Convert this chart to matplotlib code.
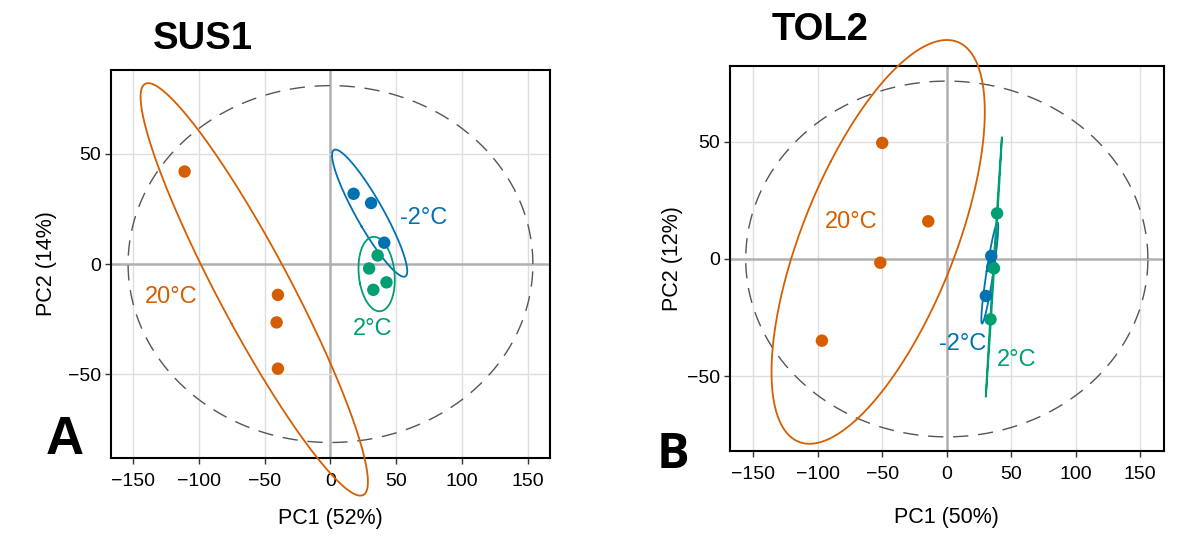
import matplotlib.pyplot as plt
import numpy as np

plt.rcParams['font.family'] = ['Liberation Sans', 'DejaVu Sans']

col_20 = "#D55E00"
col_m2 = "#0072B2"
col_2 = "#009E73"

# SUS1 scores (PC1, PC2)
sus_20_x = [-111, -40, -41, -40]
sus_20_y = [42, -14, -26.5, -47.5]
sus_m2_x = [17.6, 30.9, 40.9]
sus_m2_y = [31.9, 27.7, 9.7]
sus_2_x = [35.9, 29.4, 42.6, 32.6]
sus_2_y = [3.9, -2.0, -8.3, -11.7]

# TOL2 scores (PC1, PC2); third -2°C sample sits under a 2°C point
tol_20_x = [-50.1, -14.4, -51.6, -96.9]
tol_20_y = [49.6, 16.1, -1.6, -34.9]
tol_m2_x = [34.5, 30.3, 35.3]
tol_m2_y = [1.3, -15.8, -3.4]
tol_2_x = [39.0, 36.6, 33.9]
tol_2_y = [19.5, -4.0, -25.8]

# radii of the dashed reference ellipse (PC1, PC2)
sus_circle = [154, 81]
tol_circle = [156, 76]

ticks_x = [-150, -100, -50, 0, 50, 100, 150]
ticks_y = [-50, 0, 50]


def conf_ellipse(ax, x, y, color):
    x = np.asarray(x, float)
    y = np.asarray(y, float)
    cov = np.cov(x, y)
    w, v = np.linalg.eigh(cov)
    w = np.clip(w, 0, None)
    t = np.linspace(0, 2 * np.pi, 300)
    circ = np.vstack([np.cos(t), np.sin(t)])
    pts = v @ (np.sqrt(w)[:, None] * circ) * np.sqrt(5.991)
    ax.plot(pts[0] + x.mean(), pts[1] + y.mean(), color=color, lw=1.3,
            clip_on=False, zorder=3)


def panel(ax, groups, circle, xlim, ylim, xlabel, ylabel, labels):
    ax.set_xlim(xlim)
    ax.set_ylim(ylim)
    for v in ticks_x:
        ax.axvline(v, color="#b0b0b0" if v == 0 else "#dedede",
                   lw=1.8 if v == 0 else 1.0, zorder=0)
    for v in ticks_y:
        ax.axhline(v, color="#b0b0b0" if v == 0 else "#dedede",
                   lw=1.8 if v == 0 else 1.0, zorder=0)
    t = np.linspace(0, 2 * np.pi, 400)
    ax.plot(circle[0] * np.cos(t), circle[1] * np.sin(t), color="#555555",
            lw=1.0, dashes=(11, 7), zorder=1)
    for gx, gy, c in groups:
        conf_ellipse(ax, gx, gy, c)
        ax.scatter(gx, gy, s=80, color=c, edgecolors="none", zorder=4)
    for (lx, ly, txt, c) in labels:
        ax.text(lx, ly, txt, color=c, fontsize=17, ha="center", va="center")
    ax.set_xticks(ticks_x)
    ax.set_yticks(ticks_y)
    ax.tick_params(labelsize=14, length=4, width=1, color="#333333", pad=3)
    ax.tick_params(axis="x", pad=7)
    ax.set_xlabel(xlabel, fontsize=15.5)
    ax.set_ylabel(ylabel, fontsize=15.5, labelpad=8)
    for s in ax.spines.values():
        s.set_linewidth(1.5)


fig = plt.figure(figsize=(12, 5.4), dpi=100)
axA = fig.add_axes([0.0925, 0.152, 0.3658, 0.718])
axB = fig.add_axes([0.608, 0.165, 0.362, 0.713])

panel(axA,
      [(sus_20_x, sus_20_y, col_20), (sus_m2_x, sus_m2_y, col_m2),
       (sus_2_x, sus_2_y, col_2)],
      sus_circle, (-167, 167), (-88, 88), "PC1 (52%)", "PC2 (14%)",
      [(-121, -15, "20°C", col_20), (71, 21, "-2°C", col_m2),
       (32, -29.5, "2°C", col_2)])
axA.xaxis.labelpad = 13

panel(axB,
      [(tol_20_x, tol_20_y, col_20), (tol_m2_x, tol_m2_y, col_m2),
       (tol_2_x, tol_2_y, col_2)],
      tol_circle, (-168.5, 168.5), (-82, 82.5), "PC1 (50%)", "PC2 (12%)",
      [(-74, 16, "20°C", col_20), (12, -36.5, "-2°C", col_m2),
       (54, -43, "2°C", col_2)])
axB.xaxis.labelpad = 17
axB.yaxis.labelpad = 3

fig.text(0.169, 0.928, "SUS1", fontsize=27.5, fontweight="bold", ha="center", va="center")
fig.text(0.683, 0.944, "TOL2", fontsize=27.5, fontweight="bold", ha="center", va="center")
fig.text(0.054, 0.185, "A", fontsize=38, fontweight="heavy", ha="center", va="center")
fig.text(0.561, 0.156, "B", fontsize=35, fontweight="bold", ha="center", va="center",
         family=["Open Sans", "DejaVu Sans"])

fig.savefig("out.png", dpi=100, facecolor="white")
